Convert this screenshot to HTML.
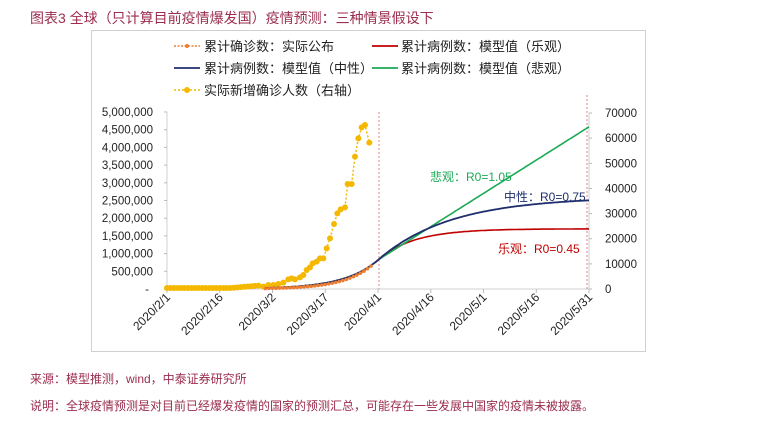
<!DOCTYPE html>
<html><head><meta charset="utf-8"><style>
body{margin:0;background:#fff;width:764px;height:423px;overflow:hidden;font-family:"Liberation Sans","Noto Sans CJK SC",sans-serif;}
.t{position:absolute;color:#9b2d4f;white-space:nowrap}
</style></head><body>
<div class="t" style="left:30px;top:8px;font-size:14px">图表3 全球（只计算目前疫情爆发国）疫情预测：三种情景假设下</div>
<div style="position:absolute;left:91px;top:30px;width:555px;height:322px;border:1px solid #d0d0d0;box-sizing:border-box"></div>
<svg id="s" width="764" height="423" style="position:absolute;left:0;top:0" font-family="Liberation Sans, Noto Sans CJK SC, sans-serif"></svg>
<div class="t" style="left:30px;top:370px;font-size:12px">来源：模型推测，wind，中泰证券研究所</div>
<div class="t" style="left:30px;top:397px;font-size:12px">说明：全球疫情预测是对目前已经爆发疫情的国家的预测汇总，可能存在一些发展中国家的疫情未被披露。</div>
<script>
var s='';
var X=function(d){return 167+d*3.517;};
var Y=function(v){return 289-v/5e6*177;};
var YR=function(v){return 289-v/70000*176;};
s+='<line x1="167" y1="112" x2="167" y2="289" stroke="#d0d0d0"/>';
var ll=['-','500,000','1,000,000','1,500,000','2,000,000','2,500,000','3,000,000','3,500,000','4,000,000','4,500,000','5,000,000'];
for(var i=0;i<=10;i++){var y=Y(i*5e5);s+='<line x1="164" y1="'+y+'" x2="167" y2="'+y+'" stroke="#bbb"/>';
s+='<text x="'+(i==0?149:153)+'" y="'+(y+4)+'" font-size="11.5" text-anchor="end" fill="#222">'+ll[i]+'</text>';}
s+='<line x1="589" y1="113" x2="589" y2="289" stroke="#d0d0d0"/>';
for(var i=0;i<=7;i++){var y=YR(i*10000);s+='<line x1="589" y1="'+y+'" x2="592" y2="'+y+'" stroke="#bbb"/>';
s+='<text x="605" y="'+(y+4)+'" font-size="11.5" fill="#222">'+(i*10000)+'</text>';}
s+='<line x1="167" y1="289" x2="589" y2="289" stroke="#d0d0d0"/>';
var xl=['2020/2/1','2020/2/16','2020/3/2','2020/3/17','2020/4/1','2020/4/16','2020/5/1','2020/5/16','2020/5/31'];
for(var i=0;i<9;i++){var x=X(i*15);s+='<line x1="'+x+'" y1="289" x2="'+x+'" y2="293" stroke="#bbb"/>';
s+='<text transform="translate('+(x+4)+',298) rotate(-45)" font-size="12" text-anchor="end" fill="#222">'+xl[i]+'</text>';}
s+='<line x1="379" y1="112" x2="379" y2="289" stroke="#e0606a" stroke-dasharray="2,2" stroke-width="0.8"/>';
s+='<line x1="587" y1="95" x2="587" y2="289" stroke="#e0606a" stroke-dasharray="2,2" stroke-width="0.8"/>';
var zp=[[520,770],[535,765],[550,765],[565,762],[580,758],[595,748],[605,745],[615,748],[630,742],[640,735],[650,720],[660,712],[668,700],[680,695],[690,685],[700,685],[710,655],[720,625],[732,582],[742,550],[752,538],[765,532],[773,462],[785,462],[795,380],[805,325],[815,292],[825,285],[838,338]];
var yp=[];for(var d=0;d<27;d++){yp.push([X(d),288-(d>18?(d-18)*0.3:0)]);}
zp.forEach(function(p){yp.push([90+p[0]/3,30+p[1]/3]);});
s+='<polyline fill="none" stroke="#f5b800" stroke-width="1.5" stroke-dasharray="2,2" points="'+yp.map(function(p){return p.join(',')}).join(' ')+'"/>';
yp.forEach(function(p){s+='<circle cx="'+p[0]+'" cy="'+p[1]+'" r="3" fill="#f5b800"/>';});
function path(f,a,b,c,w){var p=[];for(var t=a;t<=b;t+=0.5)p.push(X(t).toFixed(1)+','+Y(f(t)).toFixed(1));return '<polyline fill="none" stroke="'+c+'" stroke-width="'+w+'" points="'+p.join(' ')+'"/>';}
var base=function(t){return 820000*Math.exp((t-60)/9.5);};
s+=path(function(t){return t<=60?base(t):820000+880000*(1-Math.exp(-(t-60)/10.2));},28,120,'#c00000',1.6);
s+=path(function(t){return t<=60?base(t):820000+62700*(t-60);},28,120,'#1aaa55',1.6);
s+=path(function(t){return t<=60?base(t):820000+1780000*(1-Math.exp(-(t-60)/20.6));},28,120,'#1f2f6e',1.8);
var op=[];for(var t=28;t<=58;t++)op.push([X(t),Y(650000*Math.exp((t-58)/8))]);
s+='<polyline fill="none" stroke="#ed7d31" stroke-width="1.8" stroke-dasharray="2,1.5" points="'+op.map(function(p){return p.join(',')}).join(' ')+'"/>';
op.forEach(function(p){s+='<circle cx="'+p[0]+'" cy="'+p[1]+'" r="1.8" fill="#ed7d31"/>';});
s+='<text x="430" y="181" font-size="12" fill="#1aaa55">悲观：R0=1.05</text>';
s+='<text x="504" y="201" font-size="12" fill="#1f2f6e">中性：R0=0.75</text>';
s+='<text x="498" y="253" font-size="12" fill="#c00000">乐观：R0=0.45</text>';
s+='<line x1="174" y1="46" x2="200" y2="46" stroke="#ed7d31" stroke-width="1.5" stroke-dasharray="2,1.5"/><circle cx="187" cy="46" r="2" fill="#ed7d31"/>';
s+='<text x="204" y="51" font-size="13" fill="#222">累计确诊数：实际公布</text>';
s+='<line x1="372" y1="46" x2="398" y2="46" stroke="#c00000" stroke-width="1.8"/><text x="401" y="51" font-size="13" fill="#222">累计病例数：模型值（乐观）</text>';
s+='<line x1="174" y1="68" x2="200" y2="68" stroke="#1f2f6e" stroke-width="1.8"/><text x="204" y="73" font-size="13" fill="#222">累计病例数：模型值（中性）</text>';
s+='<line x1="372" y1="68" x2="398" y2="68" stroke="#1aaa55" stroke-width="1.8"/><text x="401" y="73" font-size="13" fill="#222">累计病例数：模型值（悲观）</text>';
s+='<line x1="174" y1="90" x2="200" y2="90" stroke="#f5b800" stroke-width="1.5" stroke-dasharray="2,2"/><circle cx="187" cy="90" r="3" fill="#f5b800"/>';
s+='<text x="204" y="95" font-size="13" fill="#222">实际新增确诊人数（右轴）</text>';
document.getElementById('s').innerHTML=s;
</script>
</body></html>
